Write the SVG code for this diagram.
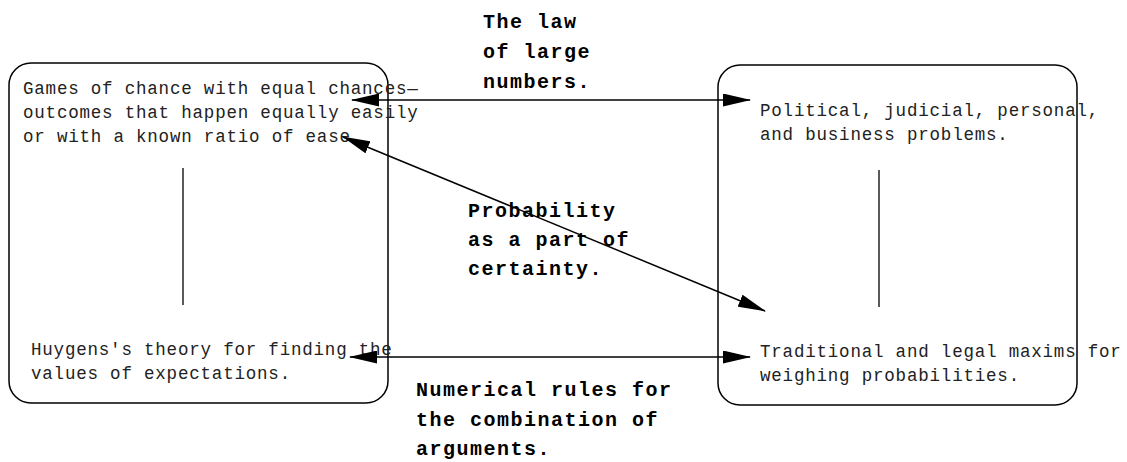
<svg xmlns="http://www.w3.org/2000/svg" width="1127" height="462" viewBox="0 0 1127 462">
<style>
.box{fill:none;stroke:#000;stroke-width:1.5}
.t{font-family:"Liberation Mono",monospace;font-size:17.5px;letter-spacing:0.8px;fill:#222}
.b{font-family:"Liberation Mono",monospace;font-size:20px;font-weight:bold;letter-spacing:1.5px;fill:#000}
.c{stroke:#000;stroke-width:1.5;fill:none;marker-start:url(#ah);marker-end:url(#ah)}
.v{stroke:#000;stroke-width:1.3}
</style>
<defs>
<marker id="ah" viewBox="0 0 28 13" refX="27" refY="6.5" markerWidth="28" markerHeight="13" markerUnits="userSpaceOnUse" orient="auto-start-reverse">
<path d="M0,0 L28,6.5 L0,13 Z" fill="#000"/>
</marker>
</defs>
<rect width="1127" height="462" fill="#fff"/>
<g id="node-games">
<rect class="box" x="9" y="63" width="379" height="340" rx="22"/>
<text class="t" x="23" y="94">Games of chance with equal chances—</text>
<text class="t" x="23" y="118">outcomes that happen equally easily</text>
<text class="t" x="23" y="142">or with a known ratio of ease</text>
<line class="v" x1="183" y1="168" x2="183" y2="305"/>
<text class="t" x="31" y="355">Huygens's theory for finding the</text>
<text class="t" x="31" y="379">values of expectations.</text>
</g>
<g id="node-problems">
<rect class="box" x="718" y="65" width="359" height="340" rx="22"/>
<text class="t" x="760" y="116">Political, judicial, personal,</text>
<text class="t" x="760" y="140">and business problems.</text>
<line class="v" x1="879" y1="170" x2="879" y2="307"/>
<text class="t" x="760" y="357">Traditional and legal maxims for</text>
<text class="t" x="760" y="381">weighing probabilities.</text>
</g>
<g id="label-law">
<text class="b" x="483" y="28">The law</text>
<text class="b" x="483" y="58">of large</text>
<text class="b" x="483" y="88">numbers.</text>
</g>
<g id="label-prob">
<text class="b" x="468" y="217">Probability</text>
<text class="b" x="468" y="246">as a part of</text>
<text class="b" x="468" y="275">certainty.</text>
</g>
<g id="label-rules">
<text class="b" x="416" y="396">Numerical rules for</text>
<text class="b" x="416" y="426">the combination of</text>
<text class="b" x="416" y="455">arguments.</text>
</g>
<g id="connectors">
<line class="c" x1="352" y1="100" x2="750" y2="100"/>
<line class="c" x1="343" y1="137" x2="765" y2="311"/>
<line class="c" x1="350" y1="357" x2="750" y2="357"/>
</g>
</svg>
